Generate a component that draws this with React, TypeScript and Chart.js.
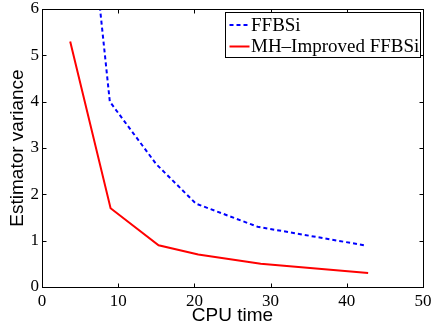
import React, { useEffect, useRef } from "react";
import { Chart, registerables } from "chart.js";

Chart.register(...registerables);

const ffbsiX = [7.3, 8.9, 15.0, 20.2, 28.3, 42.3];
const ffbsiY = [6.5, 4.0, 2.65, 1.8, 1.3, 0.9];
const mhX = [3.7, 9.0, 15.3, 20.5, 28.7, 42.8];
const mhY = [5.3, 1.7, 0.9, 0.7, 0.5, 0.3];
const seriesLabels = ["FFBSi", "MH\u2013Improved FFBSi"];
const xTitle = "CPU time";
const yTitle = "Estimator variance";

const serif = "'Liberation Serif', 'Times New Roman', serif";
const sans = "'Liberation Sans', Arial, sans-serif";

const framePlugin = {
  id: "frame",
  afterDraw(chart: any) {
    const { ctx, chartArea: a, scales } = chart;
    ctx.save();
    ctx.strokeStyle = "#000";
    ctx.lineWidth = 1;
    const L = Math.round(a.left) + 0.5, R = Math.round(a.right) + 0.5;
    const T = Math.round(a.top) + 0.5, B = Math.round(a.bottom) + 0.5;
    ctx.strokeRect(L, T, R - L, B - T);
    const tl = 4;
    ctx.beginPath();
    scales.x.ticks.forEach((t: any) => {
      const px = Math.round(scales.x.getPixelForValue(t.value)) + 0.5;
      ctx.moveTo(px, B); ctx.lineTo(px, B - tl);
      ctx.moveTo(px, T); ctx.lineTo(px, T + tl);
    });
    scales.y.ticks.forEach((t: any) => {
      const py = Math.round(scales.y.getPixelForValue(t.value)) + 0.5;
      ctx.moveTo(L, py); ctx.lineTo(L + tl, py);
      ctx.moveTo(R, py); ctx.lineTo(R - tl, py);
    });
    ctx.stroke();

    // legend box
    const ds = chart.data.datasets;
    ctx.font = `19px ${serif}`;
    let maxW = 0;
    ds.forEach((d: any) => { maxW = Math.max(maxW, ctx.measureText(d.label).width); });
    const boxR = Math.round(a.right) - 2.5;
    const lineLen = 20;
    const boxW = 4 + lineLen + 1.5 + maxW + 1.5;
    const boxL = Math.round(boxR - boxW) + 0.5;
    const boxT = 12.5, boxB = 57.5;
    ctx.fillStyle = "#fff";
    ctx.fillRect(boxL, boxT, boxR - boxL, boxB - boxT);
    ctx.strokeStyle = "#000";
    ctx.lineWidth = 1;
    ctx.strokeRect(boxL, boxT, boxR - boxL, boxB - boxT);
    const rows = [25, 46.5];
    ds.forEach((d: any, i: number) => {
      const y = rows[i];
      ctx.strokeStyle = d.borderColor;
      ctx.lineWidth = d.borderWidth;
      ctx.setLineDash(d.borderDash || []);
      ctx.beginPath();
      ctx.moveTo(boxL + 4, y);
      ctx.lineTo(boxL + 4 + lineLen, y);
      ctx.stroke();
      ctx.setLineDash([]);
      ctx.fillStyle = "#000";
      ctx.textBaseline = "middle";
      ctx.textAlign = "left";
      ctx.fillText(d.label, boxL + 4 + lineLen + 1.5, y + 1);
    });
    ctx.restore();
  },
};

export default function App() {
  const ref = useRef<HTMLCanvasElement>(null);
  useEffect(() => {
    const chart = new Chart(ref.current!, {
      type: "line",
      data: {
        datasets: [
          {
            label: seriesLabels[0],
            data: ffbsiX.map((x, i) => ({ x, y: ffbsiY[i] })),
            borderColor: "#0000ff",
            borderWidth: 2,
            borderDash: [4, 3],
            pointRadius: 0,
            tension: 0,
            fill: false,
          },
          {
            label: seriesLabels[1],
            data: mhX.map((x, i) => ({ x, y: mhY[i] })),
            borderColor: "#ff0000",
            borderWidth: 2,
            pointRadius: 0,
            tension: 0,
            fill: false,
          },
        ],
      },
      options: {
        animation: false,
        responsive: false,
        devicePixelRatio: 1,
        layout: { padding: { top: 9, right: 8, left: 0, bottom: 0 } },
        plugins: { legend: { display: false }, tooltip: { enabled: false } },
        scales: {
          x: {
            type: "linear",
            min: 0,
            max: 50,
            afterFit: (s: any) => { s.height = 42; s.paddingLeft = 0; s.paddingRight = 0; },
            grid: { display: false, drawTicks: false },
            border: { display: false },
            ticks: { stepSize: 10, padding: 4, color: "#000", font: { family: serif, size: 17 }, maxRotation: 0 },
            title: { display: true, text: xTitle, color: "#000", font: { family: sans, size: 19 }, padding: { top: 0, bottom: 1.5 } },
          },
          y: {
            type: "linear",
            min: 0,
            max: 6,
            afterFit: (s: any) => { s.width = 42; s.paddingTop = 0; s.paddingBottom = 0; },
            grid: { display: false, drawTicks: false },
            border: { display: false },
            ticks: { stepSize: 1, padding: 3, color: "#000", font: { family: serif, size: 17 } },
            title: { display: true, text: yTitle, color: "#000", font: { family: sans, size: 19 }, padding: { top: 6, bottom: 0 } },
          },
        },
      },
      plugins: [framePlugin],
    });
    return () => chart.destroy();
  }, []);
  return (
    <div style={{ position: "fixed", left: 0, top: 0, width: 431, height: 329, background: "#fff" }}>
      <canvas ref={ref} width={431} height={329} />
    </div>
  );
}
